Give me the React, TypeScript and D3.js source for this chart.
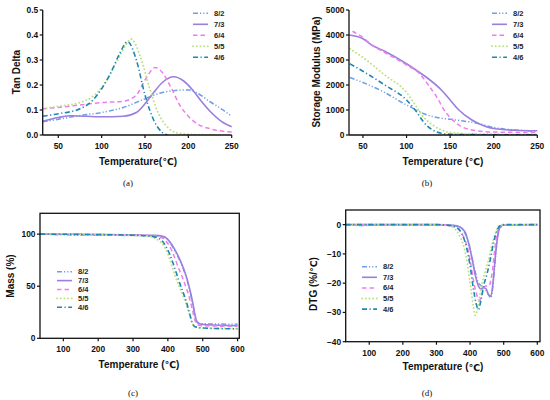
import React from "react";
import * as d3 from "d3";

// ---------- data ----------
const SERIES = ["8/2", "7/3", "6/4", "5/5", "4/6"];
const COLORS = ["#6f9fe6", "#9a7fdf", "#ef7cef", "#bde284", "#1d87b4"];
const DASHES = ["5,2,1.2,2,1.2,2", "", "4.5,3", "0.1,3.6", "5,2.5,1.2,2.5"];
const WIDTHS = [1.5, 1.6, 1.5, 1.9, 1.6];

type Pt = [number, number];

// (a) tan delta vs temperature
const tan82: Pt[] = [[32, 0.053], [50, 0.063], [75, 0.078], [100, 0.09], [125, 0.11], [150, 0.145], [170, 0.17], [185, 0.178], [200, 0.18], [210, 0.168], [225, 0.133], [240, 0.1], [250, 0.075]];
const tan73: Pt[] = [[32, 0.055], [50, 0.07], [65, 0.077], [100, 0.073], [125, 0.075], [140, 0.09], [150, 0.125], [160, 0.17], [170, 0.21], [183, 0.233], [195, 0.215], [205, 0.18], [215, 0.135], [225, 0.095], [240, 0.05], [250, 0.033]];
const tan64: Pt[] = [[32, 0.105], [50, 0.11], [75, 0.12], [100, 0.13], [125, 0.135], [140, 0.16], [150, 0.22], [162, 0.27], [170, 0.25], [180, 0.19], [190, 0.12], [200, 0.075], [210, 0.045], [225, 0.025], [250, 0.012]];
const tan55: Pt[] = [[32, 0.105], [50, 0.115], [75, 0.13], [90, 0.155], [100, 0.19], [110, 0.245], [120, 0.31], [128, 0.36], [134, 0.384], [145, 0.31], [155, 0.19], [165, 0.09], [175, 0.035], [185, 0.01], [200, 0.003], [230, 0.0]];
const tan46: Pt[] = [[32, 0.075], [50, 0.085], [75, 0.105], [90, 0.14], [100, 0.185], [110, 0.245], [120, 0.32], [130, 0.373], [140, 0.3], [150, 0.16], [160, 0.06], [170, 0.01], [176, 0.0]];

// (b) storage modulus vs temperature
const mod82: Pt[] = [[35, 2300], [50, 2100], [75, 1700], [100, 1200], [110, 1030], [120, 850], [135, 700], [150, 630], [165, 560], [180, 480], [200, 300], [225, 200], [250, 150]];
const mod73: Pt[] = [[34, 4000], [50, 3850], [60, 3600], [75, 3350], [100, 2850], [115, 2500], [125, 2250], [140, 1800], [150, 1400], [160, 1000], [175, 600], [190, 350], [200, 260], [225, 190], [250, 170]];
const mod64: Pt[] = [[38, 4150], [50, 3900], [60, 3600], [75, 3300], [100, 2800], [115, 2450], [125, 2000], [135, 1500], [145, 900], [150, 700], [160, 400], [175, 200], [200, 120], [250, 100]];
const mod55: Pt[] = [[35, 3450], [50, 3100], [75, 2400], [100, 1700], [110, 1200], [120, 700], [130, 400], [140, 200], [150, 100], [175, 50], [250, 30]];
const mod46: Pt[] = [[35, 2850], [50, 2550], [75, 2000], [100, 1400], [110, 1000], [120, 500], [130, 200], [140, 70], [150, 30], [200, 10], [250, 10]];

// (c) mass vs temperature
const mass82: Pt[] = [[33, 100], [100, 99.4], [200, 99], [300, 98.7], [360, 98.3], [385, 97.5], [395, 96], [405, 92.5], [415, 87], [425, 81], [435, 74], [445, 66], [455, 56], [465, 43], [472, 32], [478, 22], [484, 16], [495, 14], [600, 13.5]];
const mass73: Pt[] = [[33, 100], [200, 99.7], [300, 99.3], [360, 98.8], [385, 98], [395, 96.5], [405, 93], [415, 88], [425, 82], [435, 75], [445, 67], [455, 57], [465, 44], [472, 33], [478, 22], [483, 16], [490, 14], [510, 13], [600, 12]];
const mass64: Pt[] = [[33, 100], [300, 99.2], [350, 98.5], [375, 97.5], [390, 95], [400, 91], [410, 85], [420, 77], [430, 68], [440, 60], [450, 51], [460, 41], [470, 28], [477, 18], [485, 13], [500, 12], [600, 11.5]];
const mass55: Pt[] = [[33, 100], [300, 98.8], [340, 98], [360, 96.5], [375, 93.5], [390, 88], [400, 81], [410, 71], [420, 61], [430, 52], [440, 44], [450, 35], [460, 25], [468, 16], [475, 12], [490, 10], [600, 9.5]];
const mass46: Pt[] = [[33, 100], [300, 99], [350, 98], [370, 96.5], [385, 93], [395, 88], [405, 81], [415, 72], [425, 62], [435, 52], [445, 43], [455, 33], [463, 23], [470, 15], [478, 11], [495, 10], [600, 9]];

// (d) DTG vs temperature
const dtg82: Pt[] = [[30, 0], [80, -0.3], [120, -0.1], [300, 0], [350, -0.3], [370, -1], [385, -3], [395, -6], [405, -11], [415, -16], [425, -20], [435, -21], [445, -22], [455, -24], [462, -25], [468, -21], [475, -12], [482, -4], [490, -1], [500, 0], [600, 0]];
const dtg73: Pt[] = [[30, 0], [300, 0], [350, -0.2], [370, -0.8], [385, -2.5], [395, -6], [405, -11], [415, -17], [425, -21], [432, -22], [440, -21.5], [448, -22], [455, -24], [462, -24.5], [468, -20], [475, -11], [482, -4], [490, -0.8], [500, -0.1], [600, 0]];
const dtg64: Pt[] = [[30, 0], [300, 0], [340, -0.3], [360, -1], [375, -3], [390, -7], [400, -12], [410, -19], [420, -24], [428, -26], [435, -24], [445, -21], [455, -21], [465, -17], [472, -10], [480, -3], [490, -0.5], [500, 0], [600, 0]];
const dtg55: Pt[] = [[30, 0], [300, 0], [330, -0.3], [350, -1], [365, -3], [380, -7], [390, -12], [400, -20], [410, -28], [415, -31], [422, -29], [432, -22], [445, -16], [455, -12], [465, -7], [475, -3], [485, -0.5], [495, 0], [600, 0]];
const dtg46: Pt[] = [[30, 0], [300, 0], [340, -0.3], [360, -1], [375, -3], [390, -8], [400, -14], [410, -22], [418, -27], [425, -29], [432, -26], [440, -21], [450, -17], [460, -12], [470, -6], [480, -2], [490, -0.3], [500, 0], [600, 0]];

const tanTicksY = [0, 0.1, 0.2, 0.3, 0.4, 0.5];
const tanTicksX = [50, 100, 150, 200, 250];
const modTicksY = [0, 1000, 2000, 3000, 4000, 5000];
const massTicksY = [0, 50, 100];
const dtgTicksY = [-40, -30, -20, -10, 0];
const tgaTicksX = [100, 200, 300, 400, 500, 600];

const SANS = "Arial, 'Liberation Sans', 'DejaVu Sans', sans-serif";
const SERIF = "'Liberation Serif', 'Times New Roman', serif";

// title text with the ℃ glyph drawn from a font that has it
const Title = ({ text }: { text: string }) => {
  const parts = text.split("℃");
  return (
    <>
      {parts.map((s, i) => (
        <React.Fragment key={i}>
          {s}
          {i < parts.length - 1 && <tspan fontFamily="'DejaVu Sans', sans-serif" fontSize="0.95em">℃</tspan>}
        </React.Fragment>
      ))}
    </>
  );
};

type PanelProps = {
  id: string;
  left: number; right: number; top: number; bottom: number;
  xDomain: [number, number]; yDomain: [number, number];
  xTicks: number[]; yTicks: number[]; yFmt: (v: number) => string;
  data: Pt[][];
  framed: boolean;
  yTitle: string; yTitleX: number; yTitleY: number;
  xTitle: string; xTitleX: number; xTitleY: number;
  caption: string; capX: number; capY: number;
  legX: number; legY: number; legGap: number;
};

const Panel = (p: PanelProps) => {
  const x = d3.scaleLinear().domain(p.xDomain).range([p.left, p.right]);
  const y = d3.scaleLinear().domain(p.yDomain).range([p.bottom, p.top]);
  const line = d3.line<Pt>().x((d) => x(d[0])).y((d) => y(d[1])).curve(d3.curveMonotoneX);

  return (
    <g>
      <clipPath id={`clip-${p.id}`}>
        <rect x={p.left} y={p.top - 2} width={p.right - p.left + 2} height={p.bottom - p.top + 2} />
      </clipPath>
      <g clipPath={`url(#clip-${p.id})`}>
        {p.data.map((d, i) => (
          <path key={i} d={line(d) || ""} fill="none" stroke={COLORS[i]} strokeWidth={WIDTHS[i]}
            strokeLinecap={i === 3 ? "round" : "butt"} strokeDasharray={DASHES[i] || undefined} />
        ))}
      </g>
      {p.framed ? (
        <rect x={p.left} y={p.top} width={p.right - p.left} height={p.bottom - p.top} fill="none" stroke="#111" strokeWidth={1.3} />
      ) : (
        <g stroke="#111" strokeWidth={1.3}>
          <line x1={p.left} x2={p.left} y1={p.top} y2={p.bottom} />
          <line x1={p.left} x2={p.right} y1={p.bottom} y2={p.bottom} />
        </g>
      )}
      {p.yTicks.map((t) => (
        <g key={`y${t}`}>
          <line x1={p.left - 3} x2={p.left} y1={y(t)} y2={y(t)} stroke="#111" strokeWidth={1.2} />
          <text x={p.left - 4.5} y={y(t)} textAnchor="end" dominantBaseline="central"
            fontSize={8.4} fontWeight="bold" fontFamily={SANS} fill="#111">{p.yFmt(t)}</text>
        </g>
      ))}
      {p.xTicks.map((t) => (
        <g key={`x${t}`}>
          <line x1={x(t)} x2={x(t)} y1={p.bottom} y2={p.bottom + 3} stroke="#111" strokeWidth={1.2} />
          <text x={x(t)} y={p.bottom + 11} textAnchor="middle" dominantBaseline="central"
            fontSize={8.4} fontWeight="bold" fontFamily={SANS} fill="#111">{t}</text>
        </g>
      ))}
      <text transform={`translate(${p.yTitleX},${p.yTitleY}) rotate(-90)`} textAnchor="middle"
        dominantBaseline="central" fontSize={10} fontWeight="bold" fontFamily={SANS} fill="#111">
        <Title text={p.yTitle} />
      </text>
      <text x={p.xTitleX} y={p.xTitleY} textAnchor="middle" dominantBaseline="central"
        fontSize={10} fontWeight="bold" fontFamily={SANS} fill="#111">
        <Title text={p.xTitle} />
      </text>
      <text x={p.capX} y={p.capY} textAnchor="middle" dominantBaseline="central"
        fontSize={9} fontFamily={SERIF} fill="#111">{p.caption}</text>
      {SERIES.map((s, i) => (
        <g key={s}>
          <line x1={p.legX} x2={p.legX + 15} y1={p.legY + i * p.legGap} y2={p.legY + i * p.legGap}
            stroke={COLORS[i]} strokeWidth={WIDTHS[i]} strokeLinecap={i === 3 ? "round" : "butt"}
            strokeDasharray={DASHES[i] || undefined} />
          <text x={p.legX + 21} y={p.legY + i * p.legGap} dominantBaseline="central"
            fontSize={7.5} fontWeight="bold" fontFamily={SANS} fill="#222">{s}</text>
        </g>
      ))}
    </g>
  );
};

export default function App() {
  const plain = (v: number) => d3.format("d")(v);
  return (
    <svg width={550} height={400} style={{ position: "absolute", left: 0, top: 0, background: "#fff" }}>
      <Panel id="a" left={42.7} right={231.7} top={10} bottom={135}
        xDomain={[32, 250]} yDomain={[0, 0.5]} xTicks={tanTicksX} yTicks={tanTicksY}
        yFmt={d3.format(".1f")} data={[tan82, tan73, tan64, tan55, tan46]} framed={false}
        yTitle="Tan Delta" yTitleX={16.7} yTitleY={72}
        xTitle="Temperature(℃)" xTitleX={138} xTitleY={161}
        caption="(a)" capX={128} capY={183}
        legX={193} legY={13.3} legGap={11} />
      <Panel id="b" left={349} right={537.3} top={10} bottom={135}
        xDomain={[34, 250]} yDomain={[0, 5000]} xTicks={tanTicksX} yTicks={modTicksY}
        yFmt={plain} data={[mod82, mod73, mod64, mod55, mod46]} framed={false}
        yTitle="Storage Modulus (MPa)" yTitleX={316.7} yTitleY={72}
        xTitle="Temperature (℃)" xTitleX={443} xTitleY={161}
        caption="(b)" capX={427} capY={183}
        legX={492} legY={13.3} legGap={11} />
      <Panel id="c" left={40} right={239.3} top={213.3} bottom={338.3}
        xDomain={[33, 605]} yDomain={[0, 120]} xTicks={tgaTicksX} yTicks={massTicksY}
        yFmt={plain} data={[mass82, mass73, mass64, mass55, mass46]} framed={true}
        yTitle="Mass (%)" yTitleX={10} yTitleY={276}
        xTitle="Temperature (℃)" xTitleX={139} xTitleY={364}
        caption="(c)" capX={133} capY={393}
        legX={57} legY={271.7} legGap={8.9} />
      <Panel id="d" left={345.7} right={540} top={210} bottom={341.7}
        xDomain={[30, 608]} yDomain={[-40, 5]} xTicks={tgaTicksX} yTicks={dtgTicksY}
        yFmt={plain} data={[dtg82, dtg73, dtg64, dtg55, dtg46]} framed={true}
        yTitle="DTG (%/℃)" yTitleX={313.3} yTitleY={284}
        xTitle="Temperature (℃)" xTitleX={443} xTitleY={366.7}
        caption="(d)" capX={427} capY={393}
        legX={362} legY={266.7} legGap={10.6} />
    </svg>
  );
}
